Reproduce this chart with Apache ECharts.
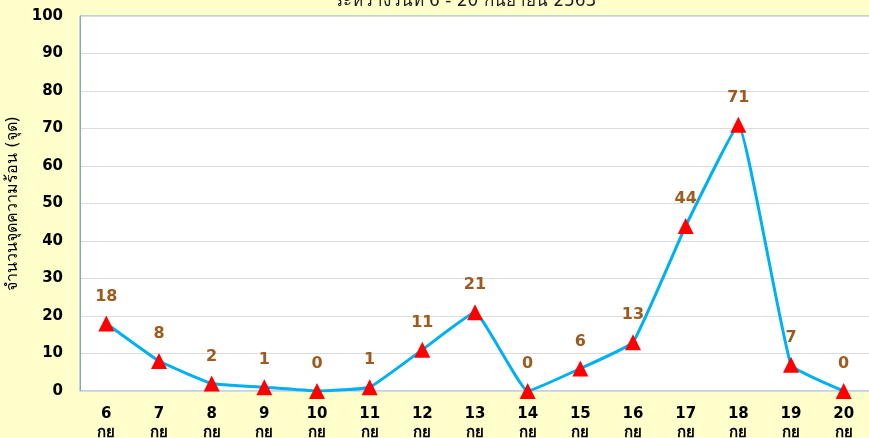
<!DOCTYPE html>
<html>
<head>
<meta charset="utf-8">
<script src="https://cdn.jsdelivr.net/npm/echarts@6/dist/echarts.min.js"></script>
<style>
html,body{margin:0;padding:0;background:#FFFFCC;}
#c{width:869px;height:438px;}
</style>
</head>
<body>
<div id="c"></div>
<script>
const days = ['6','7','8','9','10','11','12','13','14','15','16','17','18','19','20'];
const monthAbbr = 'กย';
const hotspots = [18, 8, 2, 1, 0, 1, 11, 21, 0, 6, 13, 44, 71, 7, 0];
const yTicks = [0, 10, 20, 30, 40, 50, 60, 70, 80, 90, 100];
const titleText = 'ระหว่างวันที่ 6 - 20 กันยายน 2563';
const yTitle = 'จำนวนจุดความร้อน (จุด)';

const categories = days.map(d => d + '\n' + monthAbbr);
const chart = echarts.init(document.getElementById('c'));
const fontFam = '"DejaVu Sans", Tahoma, "Noto Sans", sans-serif';
chart.setOption({
  backgroundColor: '#FFFFCC',
  animation: false,
  title: {
    text: titleText,
    left: 460, textAlign: 'center', top: -12,
    textStyle: {fontSize: 17, fontWeight: 'normal', color: '#1a1a1a', fontFamily: fontFam}
  },
  grid: {
    left: 80, right: -1, top: 16, bottom: 47,
    outerBoundsMode: 'none',
    containLabel: false,
    show: true, backgroundColor: '#ffffff', borderColor: '#7FA7D9', borderWidth: 1
  },
  xAxis: {
    type: 'category',
    data: categories,
    boundaryGap: true,
    axisLine: {show: true, lineStyle: {color: '#D9D9D9', width: 1}},
    axisTick: {show: false},
    axisLabel: {
      color: '#000', fontWeight: 'bold', fontSize: 15, fontFamily: fontFam,
      margin: 14, lineHeight: 19, interval: 0
    }
  },
  yAxis: {
    type: 'value',
    min: yTicks[0], max: yTicks[yTicks.length - 1], interval: 10,
    name: yTitle,
    nameLocation: 'middle', nameGap: 51, nameRotate: 90,
    nameTextStyle: {fontSize: 16, color: '#000', fontFamily: fontFam},
    axisLine: {show: true, lineStyle: {color: '#7FA7D9', width: 1}},
    axisTick: {show: false},
    splitLine: {lineStyle: {color: '#DCDCDC', width: 1}},
    axisLabel: {color: '#000', fontWeight: 'bold', fontSize: 15, fontFamily: fontFam, margin: 17}
  },
  series: [{
    type: 'line',
    data: hotspots,
    smooth: 0.1,
    lineStyle: {color: '#00B0F0', width: 3},
    symbol: 'triangle', symbolSize: 16,
    itemStyle: {color: '#FF0000'},
    label: {
      show: true, position: 'top', distance: 11,
      color: '#9C5B1F', fontWeight: 'bold', fontSize: 16, fontFamily: fontFam
    },
    z: 3
  }]
});
</script>
</body>
</html>
